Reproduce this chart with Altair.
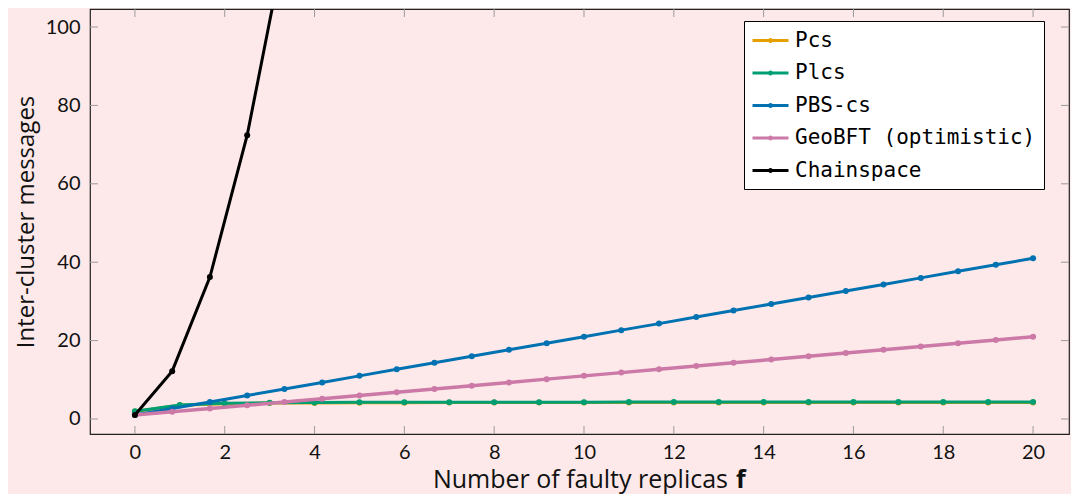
import altair as alt
import pandas as pd

# ---- data ----
series_names = ["Pcs", "Plcs", "PBS-cs", "GeoBFT (optimistic)", "Chainspace"]
series_colors = ["#E69F00", "#009E73", "#0072B2", "#CC79A7", "#000000"]

f_int = [0, 1, 2, 3, 4, 5, 6, 7, 8, 9, 10, 11, 12, 13, 14, 15, 16, 17, 18, 19, 20]
pcs = [1.9, 3.5, 3.9, 4.05, 4.1, 4.15, 4.17, 4.18, 4.19, 4.2, 4.2, 4.21, 4.21, 4.22,
       4.22, 4.22, 4.22, 4.23, 4.23, 4.23, 4.23]
plcs = [2.0, 3.6, 4.0, 4.15, 4.2, 4.25, 4.27, 4.28, 4.29, 4.3, 4.3, 4.31, 4.31, 4.32,
        4.32, 4.32, 4.32, 4.33, 4.33, 4.33, 4.33]

f_grid = [0, 0.83, 1.67, 2.5, 3.33, 4.17, 5, 5.83, 6.67, 7.5, 8.33, 9.17, 10, 10.83,
          11.67, 12.5, 13.33, 14.17, 15, 15.83, 16.67, 17.5, 18.33, 19.17, 20]
pbs_cs = [1.0, 2.67, 4.33, 6.0, 7.67, 9.33, 11.0, 12.67, 14.33, 16.0, 17.67, 19.33,
          21.0, 22.67, 24.33, 26.0, 27.67, 29.33, 31.0, 32.67, 34.33, 36.0, 37.67,
          39.33, 41.0]
geobft = [1.0, 1.83, 2.67, 3.5, 4.33, 5.17, 6.0, 6.83, 7.67, 8.5, 9.33, 10.17, 11.0,
          11.83, 12.67, 13.5, 14.33, 15.17, 16.0, 16.83, 17.67, 18.5, 19.33, 20.17, 21.0]

f_chain = [0, 0.83, 1.67, 2.5, 3.33]
chainspace = [1.0, 12.2, 36.2, 72.4, 120.6]

x_ticks = [0, 2, 4, 6, 8, 10, 12, 14, 16, 18, 20]
y_ticks = [0, 20, 40, 60, 80, 100]

# ---- layout constants ----
W, H = 979, 425
BG = "#fde9e9"
TICK_LEN = 8
TICK_COLOR = "#9a9a9a"
TITLE_FONT = "Open Sans"

series_data = [
    (f_int, pcs),
    (f_int, plcs),
    (f_grid, pbs_cs),
    (f_grid, geobft),
    (f_chain, chainspace),
]

xs = alt.Scale(domain=[-1, 20.8], nice=False, zero=False)
ys = alt.Scale(domain=[-3.83, 104.6], nice=False, zero=False)
cs = alt.Scale(domain=series_names, range=series_colors)

legend_path = ("M-1.8,0L1.8,0"
               "M0.1,0A0.1,0.1,0,1,1,-0.1,0A0.1,0.1,0,1,1,0.1,0")

x_axis = alt.Axis(values=x_ticks, ticks=False, domain=False, grid=False,
                  labelFont="Lato", labelFontSize=20, labelColor="#111",
                  labelPadding=8, title=None)
y_axis = alt.Axis(values=y_ticks, ticks=False, domain=False, grid=False,
                  labelFont="Lato", labelFontSize=20, labelColor="#111",
                  labelPadding=10, title="Inter-cluster messages",
                  titleFont=TITLE_FONT, titleFontSize=24, titleFontWeight="normal",
                  titleColor="#111", titlePadding=7)

layers = []

# inward tick marks on all four sides
xt = pd.DataFrame({"v": x_ticks})
yt = pd.DataFrame({"v": y_ticks})
tick_style = dict(color=TICK_COLOR, strokeWidth=1)
layers.append(alt.Chart(xt).mark_rule(**tick_style).encode(
    x=alt.X("v:Q", scale=xs, axis=x_axis), y=alt.value(H), y2=alt.value(H - TICK_LEN)))
layers.append(alt.Chart(xt).mark_rule(**tick_style).encode(
    x=alt.X("v:Q", scale=xs), y=alt.value(0), y2=alt.value(TICK_LEN)))
layers.append(alt.Chart(yt).mark_rule(**tick_style).encode(
    y=alt.Y("v:Q", scale=ys, axis=y_axis), x=alt.value(0), x2=alt.value(TICK_LEN)))
layers.append(alt.Chart(yt).mark_rule(**tick_style).encode(
    y=alt.Y("v:Q", scale=ys), x=alt.value(W - TICK_LEN), x2=alt.value(W)))

for name, (fx, fy) in zip(series_names, series_data):
    df = pd.DataFrame({"f": fx, "m": fy, "series": name})
    base = alt.Chart(df).encode(
        x=alt.X("f:Q", scale=xs),
        y=alt.Y("m:Q", scale=ys),
        color=alt.Color("series:N", scale=cs, legend=alt.Legend(
            title=None, orient="none", legendX=654, legendY=12,
            symbolType=legend_path, symbolSize=400, symbolStrokeWidth=3,
            symbolOffset=7, labelOffset=13,
            labelFont="DejaVu Sans Mono", labelFontSize=21, labelColor="#000",
            fillColor="#ffffff", strokeColor="#000000", padding=8,
            rowPadding=10.5, labelLimit=400)),
    )
    lw = 3.5 if name.startswith("GeoBFT") else 3
    layers.append(base.mark_line(strokeWidth=lw, clip=True))
    layers.append(base.mark_point(filled=True, size=36, opacity=1, clip=True))

# x-axis title with bold "f"
title_df = pd.DataFrame({"t": ["Number of faulty replicas"]})
f_df = pd.DataFrame({"t": ["f"]})
layers.append(alt.Chart(title_df).mark_text(
    font=TITLE_FONT, fontSize=25, color="#111", align="right",
    baseline="alphabetic").encode(
    text="t:N", x=alt.value(638), y=alt.value(479)))
layers.append(alt.Chart(f_df).mark_text(
    font=TITLE_FONT, fontSize=25, fontWeight="bold", color="#111", align="left",
    baseline="alphabetic").encode(text="t:N", x=alt.value(646), y=alt.value(479)))

chart = alt.layer(*layers).resolve_scale(color="shared").properties(
    width=W, height=H,
    autosize=alt.AutoSizeParams(type="none"),
    padding={"left": 82, "top": 1, "right": 2, "bottom": 60},
    background=BG,
).configure_view(stroke="#222222", strokeWidth=1.2, fill=BG)

chart.save("out.html", embed_options={"renderer": "svg", "actions": False})
